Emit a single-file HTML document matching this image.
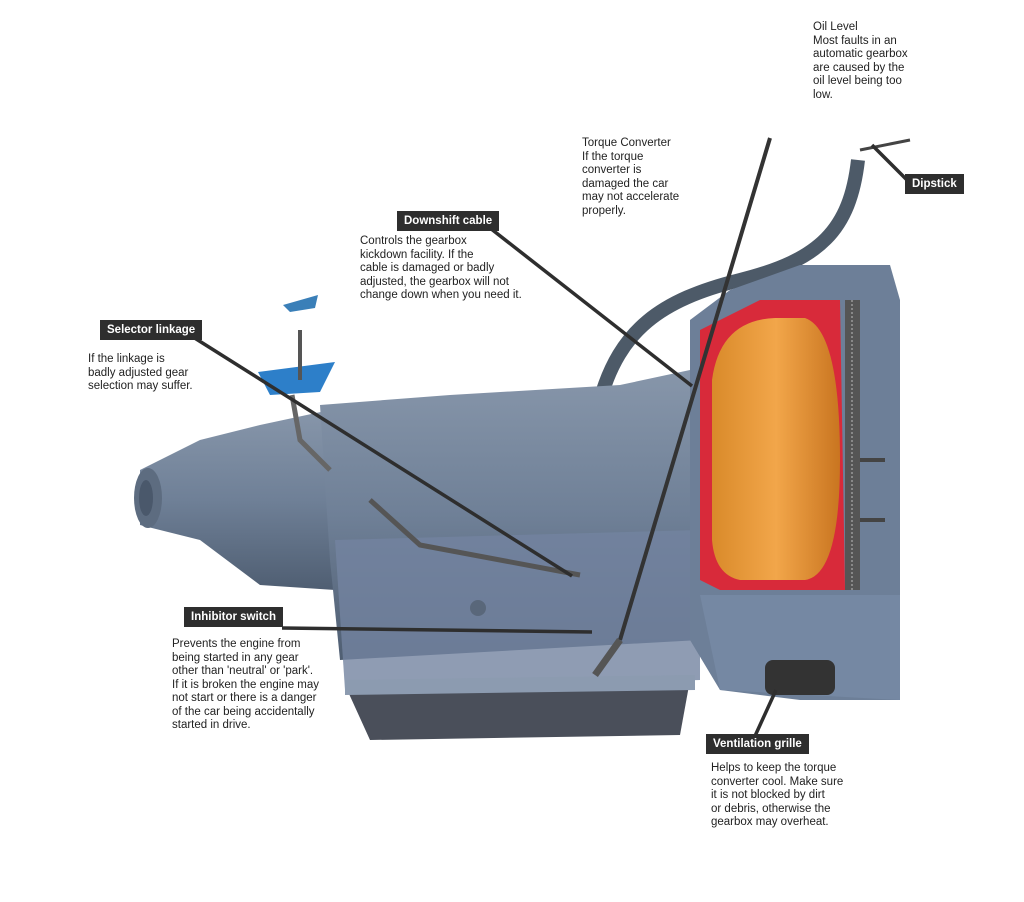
<!DOCTYPE html>
<html><head><meta charset="utf-8"><style>
html,body{margin:0;padding:0;background:#fff;}
body{width:1024px;height:902px;position:relative;overflow:hidden;font-family:"Liberation Sans",sans-serif;}
.t{position:absolute;font-size:11.5px;line-height:13.5px;color:#222;}
.lb{position:absolute;background:#2e2e2e;color:#fff;font-weight:bold;font-size:11.5px;line-height:20px;padding:0 7px;white-space:nowrap;}
svg{position:absolute;left:0;top:0;}
</style></head><body>
<svg width="1024" height="902" viewBox="0 0 1024 902">
<defs>
<linearGradient id="g1" x1="0" y1="0" x2="0" y2="1"><stop offset="0" stop-color="#8796aa"/><stop offset="0.5" stop-color="#6f8097"/><stop offset="1" stop-color="#4f5e72"/></linearGradient>
<linearGradient id="g2" x1="0" y1="0" x2="1" y2="0"><stop offset="0" stop-color="#d98a2a"/><stop offset="0.5" stop-color="#f2a64a"/><stop offset="1" stop-color="#c97520"/></linearGradient>
</defs>
<path d="M600 400 C620 330 660 300 740 280 C820 260 850 230 858 160" stroke="#4d5a68" stroke-width="14" fill="none"/>
<path d="M860 150 L910 140" stroke="#444" stroke-width="3"/>
<path d="M140 470 L200 440 L260 425 L330 410 L335 590 L260 585 L200 540 L140 525 Z" fill="url(#g1)"/>
<ellipse cx="148" cy="498" rx="14" ry="30" fill="#5d6c80"/>
<ellipse cx="146" cy="498" rx="7" ry="18" fill="#4a586b"/>
<path d="M320 405 L450 395 L620 385 L690 370 L700 640 L340 660 L330 560 Z" fill="url(#g1)"/>
<path d="M335 540 L700 530 L700 680 L345 690 Z" fill="#7383a0" opacity="0.8"/>
<circle cx="478" cy="608" r="8" fill="#59677a"/>
<path d="M345 685 L690 680 L680 735 L370 740 Z" fill="#4a4f5a"/>
<path d="M345 680 L695 675 L695 690 L345 695 Z" fill="#8c9bb0"/>
<path d="M690 320 L730 290 L800 265 L890 265 L900 300 L900 700 L800 700 L720 690 L690 640 Z" fill="#6d7f98"/>
<path d="M700 330 L760 300 L840 300 L845 590 L720 590 L700 580 Z" fill="#d82a3a"/>
<path d="M712 380 Q720 320 775 318 L805 318 Q840 330 840 460 Q840 575 805 580 L740 580 Q715 575 712 540 Z" fill="url(#g2)"/>
<path d="M845 300 L860 300 L860 590 L845 590 Z" fill="#555"/>
<path d="M852 300 L852 590" stroke="#888" stroke-width="2" stroke-dasharray="2 2"/>
<path d="M700 595 L900 595 L900 700 L720 690 Z" fill="#7588a3"/>
<rect x="765" y="660" width="70" height="35" rx="8" fill="#333"/>
<path d="M860 460 L885 460 M860 520 L885 520" stroke="#444" stroke-width="4"/>
<path d="M258 372 L335 362 L320 392 L270 395 Z" fill="#2d7fc9"/>
<path d="M300 330 L300 380" stroke="#555" stroke-width="4"/>
<path d="M283 305 L318 295 L315 308 L290 312 Z" fill="#3a7fb8"/>
<path d="M292 395 L300 440 L330 470" stroke="#666" stroke-width="5" fill="none"/>
<path d="M770 138 L620 640" stroke="#333" stroke-width="4"/>
<path d="M620 640 L595 675" stroke="#555" stroke-width="7"/>
<path d="M370 500 L420 545 L580 575" stroke="#555" stroke-width="5" fill="none"/>
<g stroke="#2e2e2e" stroke-width="3.5" fill="none">
<path d="M490 228 L692 386"/>
<path d="M193 337 L572 576"/>
<path d="M282 628 L592 632"/>
<path d="M755 736 L776 690"/>
<path d="M910 183 L872 145"/>
</g>
</svg>
<div class="t" style="left:813px;top:21px;">Oil Level<br>Most faults in an<br>automatic gearbox<br>are caused by the<br>oil level being too<br>low.</div>
<div class="t" style="left:582px;top:137px;">Torque Converter<br>If the torque<br>converter is<br>damaged the car<br>may not accelerate<br>properly.</div>
<div class="lb" style="left:905px;top:174px;">Dipstick</div>
<div class="lb" style="left:397px;top:211px;">Downshift cable</div>
<div class="t" style="left:360px;top:235px;">Controls the gearbox<br>kickdown facility. If the<br>cable is damaged or badly<br>adjusted, the gearbox will not<br>change down when you need it.</div>
<div class="lb" style="left:100px;top:320px;">Selector linkage</div>
<div class="t" style="left:88px;top:353px;">If the linkage is<br>badly adjusted gear<br>selection may suffer.</div>
<div class="lb" style="left:184px;top:607px;">Inhibitor switch</div>
<div class="t" style="left:172px;top:638px;">Prevents the engine from<br>being started in any gear<br>other than 'neutral' or 'park'.<br>If it is broken the engine may<br>not start or there is a danger<br>of the car being accidentally<br>started in drive.</div>
<div class="lb" style="left:706px;top:734px;">Ventilation grille</div>
<div class="t" style="left:711px;top:762px;">Helps to keep the torque<br>converter cool. Make sure<br>it is not blocked by dirt<br>or debris, otherwise the<br>gearbox may overheat.</div>
</body></html>
